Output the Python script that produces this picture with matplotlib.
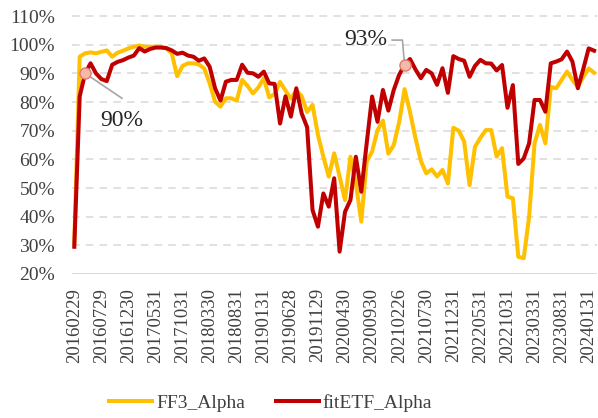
import matplotlib
matplotlib.use('Agg')
import matplotlib.pyplot as plt

# monthly series, 2016-02 .. 2024-02 (values in %)
ff3_alpha = [
    31.0, 95.8, 97.0, 97.3, 97.0, 97.5, 98.0, 95.8, 97.2, 97.9,
    98.7, 99.3, 99.7, 99.3, 99.3, 99.3, 99.3, 98.7, 97.0, 89.0,
    92.6, 93.5, 93.5, 93.1, 91.7, 86.5, 80.1, 78.4, 81.3, 81.3,
    80.5, 87.7, 85.6, 83.0, 85.1, 88.3, 81.6, 82.8, 87.0, 84.0,
    81.2, 84.0, 82.0, 76.5, 79.0, 68.5, 60.9, 54.0, 62.1, 54.0,
    45.8, 60.9, 51.6, 38.3, 59.2, 62.7, 70.2, 73.5, 62.0, 65.0,
    73.0, 84.5, 76.5, 67.5, 59.5, 55.1, 56.5, 54.0, 56.3, 51.6,
    71.0, 70.0, 66.2, 51.0, 64.4, 67.5, 70.2, 70.2, 61.0, 63.9,
    47.0, 46.4, 26.0, 25.5, 40.0, 65.6, 72.0, 65.6, 85.3, 84.8,
    87.7, 90.6, 87.7, 85.3, 88.8, 91.7, 90.2,
]
fitetf_alpha = [
    29.5, 82.0, 90.0, 93.5, 90.0, 88.0, 87.3, 93.0, 94.0, 94.6,
    95.5, 96.2, 98.8, 97.6, 98.5, 99.0, 99.0, 98.8, 98.0, 96.8,
    97.2, 96.2, 95.8, 94.4, 95.2, 92.3, 84.8, 80.5, 87.1, 87.7,
    87.7, 93.0, 90.2, 90.0, 88.8, 90.6, 86.5, 86.3, 72.5, 82.0,
    74.9, 84.8, 76.0, 71.2, 42.3, 36.5, 48.1, 43.5, 53.4, 27.8,
    41.7, 45.8, 60.9, 48.7, 65.6, 81.9, 73.1, 84.2, 77.0, 84.2,
    89.5, 93.0, 95.0, 91.4, 88.3, 91.2, 90.0, 86.0, 91.8, 83.2,
    96.0, 95.0, 94.4, 88.8, 92.6, 94.7, 93.5, 93.4, 91.0, 92.9,
    78.0, 85.9, 58.4, 60.3, 65.6, 80.7, 80.7, 76.6, 93.5, 94.1,
    94.9, 97.6, 94.1, 84.8, 91.5, 98.7, 97.9,
]
tick_labels = [
    '20160229', '20160729', '20161230', '20170531', '20171031',
    '20180330', '20180831', '20190131', '20190628', '20191129',
    '20200430', '20200930', '20210226', '20210730', '20211231',
    '20220531', '20221031', '20230331', '20230831', '20240131',
]
y_ticks = [20, 30, 40, 50, 60, 70, 80, 90, 100, 110]

font = 'Liberation Serif'
text_color = '#404040'
grid_color = '#D9D9D9'

fig = plt.figure(figsize=(5.98, 4.18), dpi=100)
ax = fig.add_axes([0.1197, 0.3445, 0.8783, 0.6172])

x = list(range(len(ff3_alpha)))
ax.plot(x, ff3_alpha, color='#FFC000', lw=2.9, solid_joinstyle='round',
        label='FF3_Alpha', zorder=3)
ax.plot(x, fitetf_alpha, color='#C00000', lw=2.9, solid_joinstyle='round',
        label='fitETF_Alpha', zorder=4)

ax.set_xlim(-0.5, len(x) - 0.5)
ax.set_ylim(20, 110)

for v in y_ticks[1:]:
    ax.axhline(v, color=grid_color, lw=1.1, ls=(0, (5, 4)), zorder=1, clip_on=False)
ax.axhline(20, color=grid_color, lw=1.4, zorder=1)

for s in ax.spines.values():
    s.set_visible(False)

ax.set_yticks(y_ticks)
ax.set_yticklabels([f'{v}%' for v in y_ticks], fontfamily=font, fontsize=14,
                   color=text_color)
ax.set_xticks(range(0, 5 * len(tick_labels), 5))
ax.set_xticklabels(tick_labels, rotation=90, fontfamily=font, fontsize=13.5,
                   color=text_color)
ax.tick_params(axis='both', length=0)
ax.tick_params(axis='y', pad=12)
ax.tick_params(axis='x', pad=10)

# callouts
ax.plot([2, 8.8], [90, 81.3], color='#A6A6A6', lw=1.2, zorder=5)
ax.plot(2, fitetf_alpha[2], 'o', ms=8, mfc='#F4B9AA', mec='#E07B6A', mew=1, zorder=6)
ax.text(8.8, 73.5, '90%', fontfamily=font, fontsize=17, color='#262626',
        ha='center', va='center', zorder=6)

ax.plot([58.7, 60.6, 61], [101.6, 101.6, 93], color='#A6A6A6', lw=1.2, zorder=5)
ax.plot(61, fitetf_alpha[61], 'o', ms=8, mfc='#F4B9AA', mec='#E07B6A', mew=1, zorder=6)
ax.text(57.8, 101.8, '93%', fontfamily=font, fontsize=17, color='#262626',
        ha='right', va='center', zorder=6)

leg = fig.legend(loc='center', bbox_to_anchor=(0.453, 0.036), ncol=2,
                 frameon=False, handlelength=2.2, columnspacing=1.6,
                 handletextpad=0.2, prop={'family': font, 'size': 14})
for t in leg.get_texts():
    t.set_color(text_color)

fig.savefig('out.png', dpi=100)
